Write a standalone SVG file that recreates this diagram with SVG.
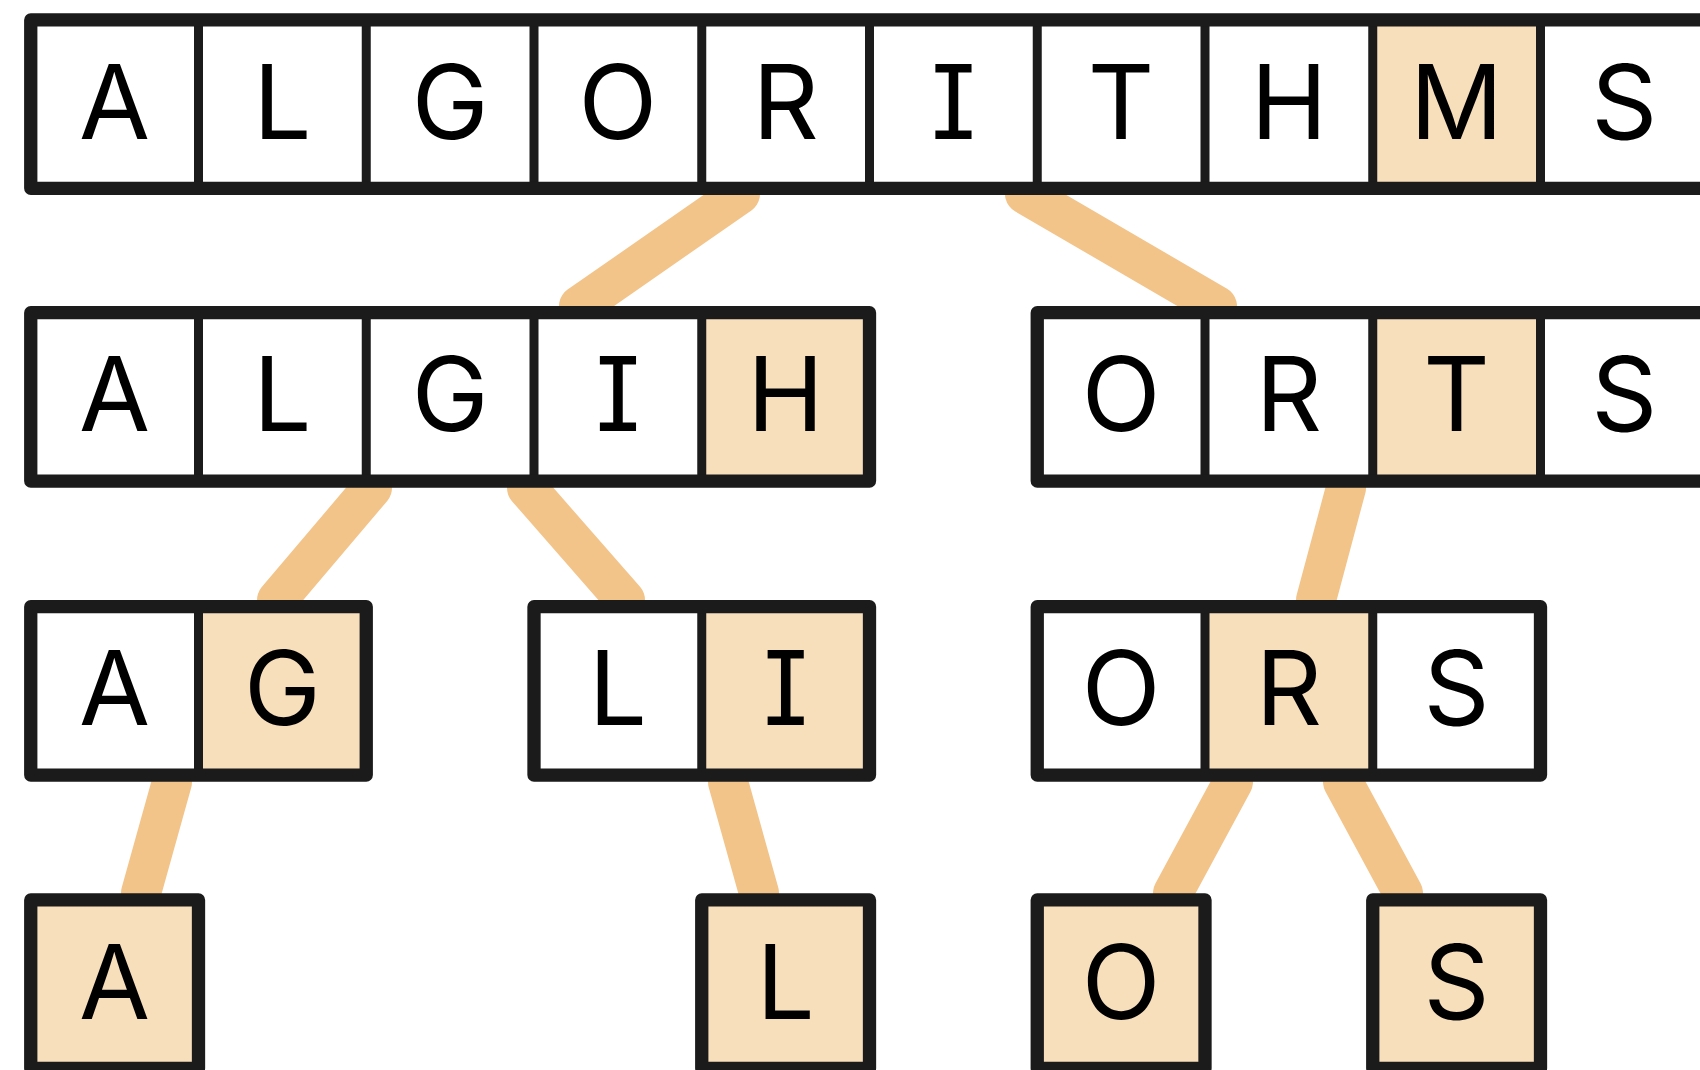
<svg xmlns="http://www.w3.org/2000/svg" width="1700" height="1070" viewBox="0 0 1700 1070">
  <style>
    .bg { fill: #ffffff; }
    .hl { fill: #f8dfbc; }
    .frame { fill: none; stroke: #1b1b1b; stroke-width: 13.3; stroke-linejoin: round; }
    .div { stroke: #1b1b1b; stroke-width: 9; }
    .edge { fill: none; stroke: #f3c489; stroke-width: 40; stroke-linecap: round; }
    .ch { font-family: Inter, "Liberation Sans", sans-serif; font-size: 103px; fill: #000000; text-anchor: middle; font-feature-settings: "cv08"; }
  </style>

  <!-- tree edges, drawn beneath the boxes -->
  <g id="connectors">
    <line class="edge" x1="740" y1="194" x2="579" y2="306"/>
    <line class="edge" x1="1025" y1="194" x2="1217" y2="306"/>
    <line class="edge" x1="372" y1="488" x2="277" y2="600"/>
    <line class="edge" x1="527" y1="488" x2="625" y2="600"/>
    <line class="edge" x1="1346" y1="488" x2="1316" y2="600"/>
    <line class="edge" x1="172" y1="782" x2="141" y2="893"/>
    <line class="edge" x1="728" y1="782" x2="759" y2="893"/>
    <line class="edge" x1="1233" y1="782" x2="1173" y2="893"/>
    <line class="edge" x1="1343" y1="782" x2="1403" y2="893"/>
  </g>

  <!-- level 0: ALGORITHMS -->
  <g id="node-algorithms">
    <rect class="bg" x="30.75" y="19.95" width="1677.5" height="168.4"/>
    <rect class="hl" x="1372.75" y="19.95" width="167.75" height="168.4"/>
    <line class="div" x1="198.5" y1="19.95" x2="198.5" y2="188.35"/>
    <line class="div" x1="366.25" y1="19.95" x2="366.25" y2="188.35"/>
    <line class="div" x1="534" y1="19.95" x2="534" y2="188.35"/>
    <line class="div" x1="701.75" y1="19.95" x2="701.75" y2="188.35"/>
    <line class="div" x1="869.5" y1="19.95" x2="869.5" y2="188.35"/>
    <line class="div" x1="1037.25" y1="19.95" x2="1037.25" y2="188.35"/>
    <line class="div" x1="1205" y1="19.95" x2="1205" y2="188.35"/>
    <line class="div" x1="1372.75" y1="19.95" x2="1372.75" y2="188.35"/>
    <line class="div" x1="1540.5" y1="19.95" x2="1540.5" y2="188.35"/>
    <rect class="frame" x="30.75" y="19.95" width="1677.5" height="168.4"/>
    <text class="ch" x="114.6" y="138.7">A</text>
    <text class="ch" x="282.4" y="138.7">L</text>
    <text class="ch" x="450.1" y="138.7">G</text>
    <text class="ch" x="617.9" y="138.7">O</text>
    <text class="ch" x="785.6" y="138.7">R</text>
    <text class="ch" x="953.4" y="138.7">I</text>
    <text class="ch" x="1121.1" y="138.7">T</text>
    <text class="ch" x="1288.9" y="138.7">H</text>
    <text class="ch" x="1456.6" y="138.7">M</text>
    <text class="ch" x="1624.4" y="138.7">S</text>
  </g>

  <!-- level 1 -->
  <g id="node-algih">
    <rect class="bg" x="30.75" y="312.65" width="838.75" height="168.4"/>
    <rect class="hl" x="701.75" y="312.65" width="167.75" height="168.4"/>
    <line class="div" x1="198.5" y1="312.65" x2="198.5" y2="481.05"/>
    <line class="div" x1="366.25" y1="312.65" x2="366.25" y2="481.05"/>
    <line class="div" x1="534" y1="312.65" x2="534" y2="481.05"/>
    <line class="div" x1="701.75" y1="312.65" x2="701.75" y2="481.05"/>
    <rect class="frame" x="30.75" y="312.65" width="838.75" height="168.4"/>
    <text class="ch" x="114.6" y="431.4">A</text>
    <text class="ch" x="282.4" y="431.4">L</text>
    <text class="ch" x="450.1" y="431.4">G</text>
    <text class="ch" x="617.9" y="431.4">I</text>
    <text class="ch" x="785.6" y="431.4">H</text>
  </g>

  <g id="node-orts">
    <rect class="bg" x="1037.25" y="312.65" width="671" height="168.4"/>
    <rect class="hl" x="1372.75" y="312.65" width="167.75" height="168.4"/>
    <line class="div" x1="1205" y1="312.65" x2="1205" y2="481.05"/>
    <line class="div" x1="1372.75" y1="312.65" x2="1372.75" y2="481.05"/>
    <line class="div" x1="1540.5" y1="312.65" x2="1540.5" y2="481.05"/>
    <rect class="frame" x="1037.25" y="312.65" width="671" height="168.4"/>
    <text class="ch" x="1121.1" y="431.4">O</text>
    <text class="ch" x="1288.9" y="431.4">R</text>
    <text class="ch" x="1456.6" y="431.4">T</text>
    <text class="ch" x="1624.4" y="431.4">S</text>
  </g>

  <!-- level 2 -->
  <g id="node-ag">
    <rect class="bg" x="30.75" y="606.65" width="335.5" height="168.4"/>
    <rect class="hl" x="198.5" y="606.65" width="167.75" height="168.4"/>
    <line class="div" x1="198.5" y1="606.65" x2="198.5" y2="775.05"/>
    <rect class="frame" x="30.75" y="606.65" width="335.5" height="168.4"/>
    <text class="ch" x="114.6" y="725.4">A</text>
    <text class="ch" x="282.4" y="725.4">G</text>
  </g>

  <g id="node-li">
    <rect class="bg" x="534" y="606.65" width="335.5" height="168.4"/>
    <rect class="hl" x="701.75" y="606.65" width="167.75" height="168.4"/>
    <line class="div" x1="701.75" y1="606.65" x2="701.75" y2="775.05"/>
    <rect class="frame" x="534" y="606.65" width="335.5" height="168.4"/>
    <text class="ch" x="617.9" y="725.4">L</text>
    <text class="ch" x="785.6" y="725.4">I</text>
  </g>

  <g id="node-ors">
    <rect class="bg" x="1037.25" y="606.65" width="503.25" height="168.4"/>
    <rect class="hl" x="1205" y="606.65" width="167.75" height="168.4"/>
    <line class="div" x1="1205" y1="606.65" x2="1205" y2="775.05"/>
    <line class="div" x1="1372.75" y1="606.65" x2="1372.75" y2="775.05"/>
    <rect class="frame" x="1037.25" y="606.65" width="503.25" height="168.4"/>
    <text class="ch" x="1121.1" y="725.4">O</text>
    <text class="ch" x="1288.9" y="725.4">R</text>
    <text class="ch" x="1456.6" y="725.4">S</text>
  </g>

  <!-- level 3: single-letter leaves -->
  <g id="node-a">
    <rect class="hl" x="30.75" y="899.95" width="167.75" height="168.4"/>
    <rect class="frame" x="30.75" y="899.95" width="167.75" height="168.4"/>
    <text class="ch" x="114.6" y="1018.7">A</text>
  </g>

  <g id="node-l">
    <rect class="hl" x="701.75" y="899.95" width="167.75" height="168.4"/>
    <rect class="frame" x="701.75" y="899.95" width="167.75" height="168.4"/>
    <text class="ch" x="785.6" y="1018.7">L</text>
  </g>

  <g id="node-o">
    <rect class="hl" x="1037.25" y="899.95" width="167.75" height="168.4"/>
    <rect class="frame" x="1037.25" y="899.95" width="167.75" height="168.4"/>
    <text class="ch" x="1121.1" y="1018.7">O</text>
  </g>

  <g id="node-s">
    <rect class="hl" x="1372.75" y="899.95" width="167.75" height="168.4"/>
    <rect class="frame" x="1372.75" y="899.95" width="167.75" height="168.4"/>
    <text class="ch" x="1456.6" y="1018.7">S</text>
  </g>
</svg>
